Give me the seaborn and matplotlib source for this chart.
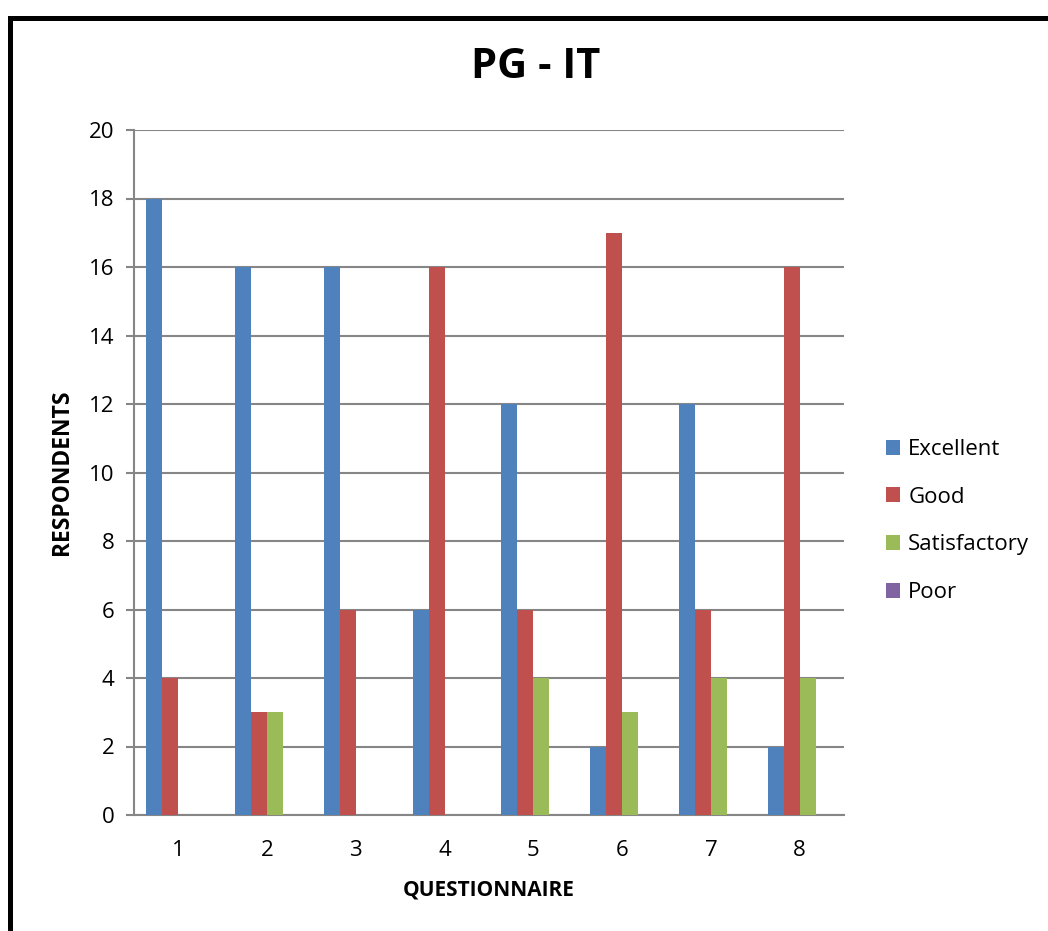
import numpy as np
import pandas as pd
import seaborn as sns
import matplotlib.pyplot as plt
from matplotlib.lines import Line2D

# datos
preguntas = ['1', '2', '3', '4', '5', '6', '7', '8']
niveles = ['Excellent', 'Good', 'Satisfactory', 'Poor']
excellent = [18, 16, 16, 6, 12, 2, 12, 2]
good = [4, 3, 6, 16, 6, 17, 6, 16]
satisfactory = [0, 3, 0, 0, 4, 3, 4, 4]
poor = [0, 0, 0, 0, 0, 0, 0, 0]
colores = ['#4F81BD', '#C0504D', '#9BBB59', '#8064A2']

# tabla larga para seaborn
df = pd.DataFrame({
    'QUESTIONNAIRE': preguntas * 4,
    'nivel': np.repeat(niveles, len(preguntas)),
    'RESPONDENTS': excellent + good + satisfactory + poor,
})

sns.set_style("white")
plt.rcParams['font.family'] = ['Open Sans', 'DejaVu Sans']
plt.rcParams['text.color'] = 'black'
plt.rcParams['xtick.labelcolor'] = 'black'
plt.rcParams['ytick.labelcolor'] = 'black'

fig = plt.figure(figsize=(10.48, 9.31), dpi=100)
ax = fig.add_axes([134 / 1048, 1 - 815 / 931, 710 / 1048, 685 / 931])

sns.barplot(data=df, x='QUESTIONNAIRE', y='RESPONDENTS', hue='nivel',
            order=preguntas, hue_order=niveles, palette=colores,
            width=0.72, saturation=1, errorbar=None, ax=ax, zorder=3,
            linewidth=0, edgecolor='none')

gris = '#868686'
ax.set_ylim(0, 20)
ax.set_yticks(range(0, 21, 2))
ax.set_xlim(-0.5, 7.5)
ax.yaxis.grid(True, color=gris, linewidth=1.5, zorder=0)
ax.set_axisbelow(True)
for lado in ['top', 'right']:
    ax.spines[lado].set_visible(False)
for lado in ['left', 'bottom']:
    ax.spines[lado].set_color(gris)
    ax.spines[lado].set_linewidth(1.5)
ax.tick_params(axis='y', length=6, width=1.5, color=gris, pad=8, labelsize=16, left=True)
ax.tick_params(axis='x', length=0, pad=18, labelsize=16)

ax.set_xlabel('')
ax.set_ylabel('')
fig.text(489 / 1048, 1 - 890 / 931, 'QUESTIONNAIRE', ha='center', va='center',
         fontsize=15, fontweight='bold')
fig.text(62 / 1048, 1 - 472 / 931, 'RESPONDENTS', ha='center', va='center',
         rotation=90, fontsize=16.5, fontweight='bold')
fig.text(536 / 1048, 1 - 68 / 931, 'PG - IT', ha='center', va='center',
         fontsize=30, fontweight='bold')

# leyenda a la derecha
ax.get_legend().remove()
handles, labels = ax.get_legend_handles_labels()
fig.legend(handles, labels, loc='center left', bbox_to_anchor=(866 / 1048, 1 - 521 / 931),
           frameon=False, fontsize=16, handlelength=0.65, handleheight=0.65,
           handletextpad=0.35, labelspacing=1.2)

# marco negro (solo se ve arriba e izquierda)
fig.add_artist(Line2D([10 / 1048, 10 / 1048], [1 - 17.5 / 931, -0.1],
                      transform=fig.transFigure, color='black', linewidth=3.6,
                      solid_capstyle='projecting'))
fig.add_artist(Line2D([10 / 1048, 1.1], [1 - 17.5 / 931, 1 - 17.5 / 931],
                      transform=fig.transFigure, color='black', linewidth=3.6,
                      solid_capstyle='projecting'))

plt.savefig('out.png', dpi=100)
